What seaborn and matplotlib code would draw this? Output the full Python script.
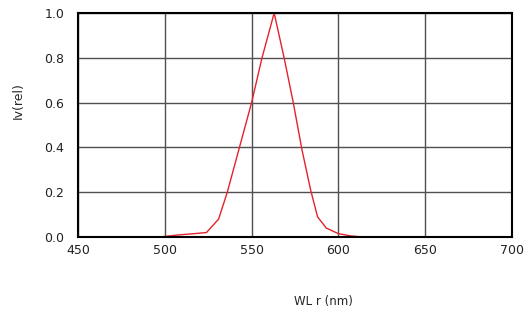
import matplotlib
matplotlib.use("Agg")
import matplotlib.pyplot as plt
import seaborn as sns
import pandas as pd

# spectrum
wavelength = [497, 509, 517, 524, 531, 536, 543, 550, 556, 563, 569, 574, 579, 584, 588, 593, 600, 607, 614, 626]
intensity = [0.0, 0.01, 0.015, 0.02, 0.08, 0.2, 0.4, 0.6, 0.8, 1.0, 0.79, 0.6, 0.39, 0.21, 0.09, 0.04, 0.015, 0.005, 0.0, 0.0]
x_ticks = [450, 500, 550, 600, 650, 700]
y_ticks = [0.0, 0.2, 0.4, 0.6, 0.8, 1.0]

df = pd.DataFrame({"wl": wavelength, "iv": intensity})

sns.set_style("white")
plt.rcParams['font.family'] = ['DejaVu Sans']

fig = plt.figure(figsize=(5.32, 3.13), dpi=100)
ax = fig.add_axes([78/532, 76/313, 434/532, 224/313])

sns.lineplot(data=df, x="wl", y="iv", color="#e3222b", linewidth=1.0, ax=ax)

ax.set_xlim(450, 700)
ax.set_ylim(0, 1.0)
ax.set_xticks(x_ticks)
ax.set_yticks(y_ticks)
ax.set_yticklabels([f"{v:.1f}" for v in y_ticks])
ax.grid(True, color="#505050", linewidth=1.0)
ax.set_axisbelow(True)
for s in ax.spines.values():
    s.set_color("black")
    s.set_linewidth(1.5)
ax.tick_params(axis="both", length=0, labelsize=9, colors="#222222")
ax.tick_params(axis="x", pad=5)
ax.tick_params(axis="y", pad=10)

ax.set_xlabel("WL r (nm)", fontsize=8.5, va="center")
ax.set_ylabel("Iv(rel)", fontsize=9, va="center")
ax.xaxis.set_label_coords(0.565, -0.29)
ax.yaxis.set_label_coords(-0.138, 0.61)

fig.savefig("out.png", dpi=100)
